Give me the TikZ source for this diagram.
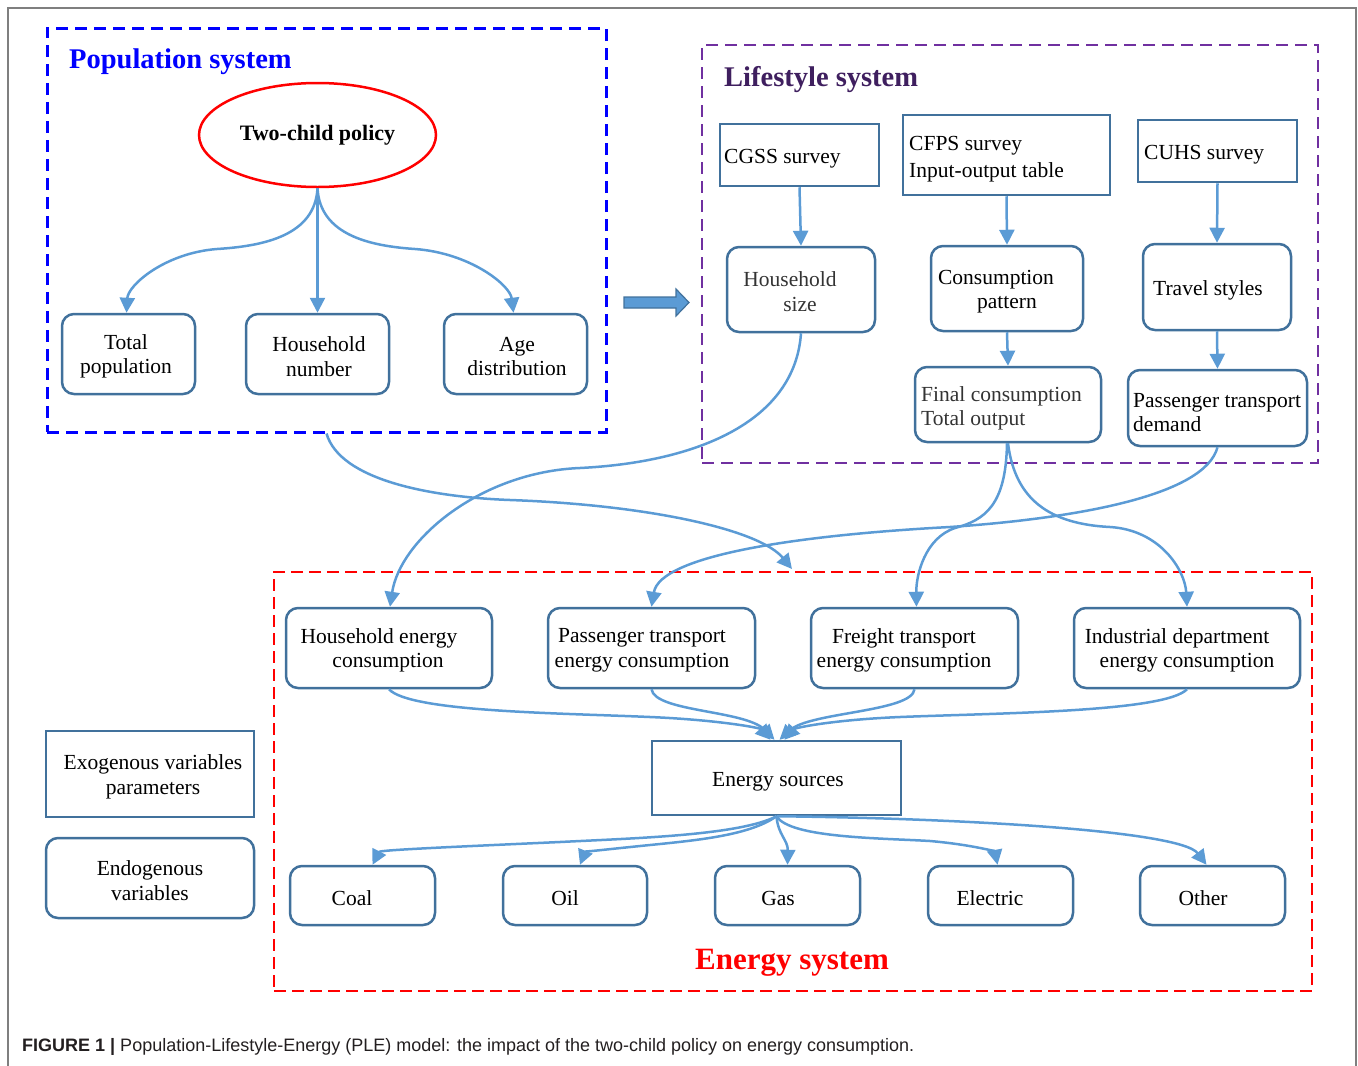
\documentclass[tikz,border=0pt]{standalone}
\usepackage{fontspec}
\setmainfont{Liberation Serif}
\newfontfamily\capfont{Liberation Sans}
\usetikzlibrary{shapes.geometric,arrows.meta}
\definecolor{boxc}{HTML}{41719C}
\definecolor{arrc}{HTML}{5B9BD5}
\definecolor{popblue}{HTML}{0000FF}
\definecolor{lifepurple}{HTML}{7030A0}
\definecolor{lifetitle}{HTML}{3F1F5F}
\definecolor{enred}{HTML}{FF0000}
\definecolor{framegray}{HTML}{7F7F7F}
\definecolor{captext}{HTML}{231F20}
\begin{document}
\begin{tikzpicture}[x=1pt,y=-1pt,
  rbox/.style={draw=boxc, line width=2.5pt, rounded corners=12pt, inner sep=0pt},
  sbox/.style={draw=boxc, line width=2.5pt, inner sep=0pt},
  txt/.style={inner sep=0pt, align=center, yshift=-2.5pt, font=\fontsize{21.5}{24.5}\selectfont},
  arr/.style={draw=arrc, line width=2.5pt, -{Triangle[length=15pt,width=15pt]}},
  sysbox/.style={inner sep=0pt, dash pattern=on 12pt off 7pt},
  systitle/.style={anchor=west, inner sep=0pt, font=\bfseries\fontsize{28.5}{30}\selectfont}]
\useasboundingbox (0,0) rectangle (1358,1066);
% frame
\draw[framegray, line width=1.5pt] (8,1070) -- (8,8) -- (1356,8) -- (1356,1070);

% ---------- Population system ----------
\node[sysbox, draw=popblue, line width=3pt, minimum width=559pt, minimum height=404pt] (popsys) at (326.5,230) {};
\node[systitle, text=popblue] (poptitle) at (69,62) {Population system};
\node[ellipse, draw=enred, line width=2.5pt, minimum width=237pt, minimum height=104pt, inner sep=0pt,
      font=\bfseries\fontsize{22}{24}\selectfont] (tcp) at (317.5,135) {\raisebox{-2pt}{Two-child policy}};
\node[rbox, minimum width=133pt, minimum height=80pt] (totpop) at (128.5,354) {};
\node[txt] (totpop-t) at (126,354) {Total\\population};
\node[rbox, minimum width=143pt, minimum height=80pt] (hhnum) at (317.5,354) {};
\node[txt] (hhnum-t) at (319,354) {Household\\number};
\node[rbox, minimum width=143pt, minimum height=80pt] (agedist) at (515.5,354) {};
\node[txt] (agedist-t) at (517,354) {Age\\distribution};

\draw[arr] (tcp.south) .. controls (315,235) and (265,246) .. (217,249) .. controls (165,253) and (128,285) .. ([xshift=-2pt]totpop.north);
\draw[arr] (tcp.south) -- (hhnum.north);
\draw[arr] (tcp.south) .. controls (320,235) and (370,246) .. (415,249) .. controls (470,253) and (510,285) .. ([xshift=-2pt]agedist.north);

% fat arrow
\filldraw[fill=arrc, draw=boxc, line width=1.2pt] (624,297) -- (676,297) -- (676,289) -- (689,302.5) -- (676,316) -- (676,308) -- (624,308) -- cycle;

% ---------- Lifestyle system ----------
\node[sysbox, draw=lifepurple, line width=2.5pt, minimum width=616pt, minimum height=418pt] (lifesys) at (1010,254) {};
\node[systitle, text=lifetitle] (lifetitle) at (724,80) {Lifestyle system};
\node[sbox, minimum width=159pt, minimum height=62pt] (cgss) at (799.5,155) {};
\node[txt, anchor=west, align=left] (cgss-t) at (724,156) {CGSS survey};
\node[sbox, minimum width=207pt, minimum height=80pt] (cfps) at (1006.5,155) {};
\node[txt, anchor=west, align=left, font=\fontsize{21.5}{27}\selectfont] (cfps-t) at (909,156.5) {CFPS survey\\Input-output table};
\node[sbox, minimum width=159pt, minimum height=62pt] (cuhs) at (1217.5,151) {};
\node[txt, anchor=west, align=left] (cuhs-t) at (1144,152) {CUHS survey};
\node[rbox, minimum width=148pt, minimum height=85pt] (hhsize) at (801,289.5) {};
\node[txt, text=black!80] (hhsize-t) at (790,289) {Household\\\hspace*{20pt}size};
\node[rbox, minimum width=152pt, minimum height=85pt] (conpat) at (1007,288.5) {};
\node[txt] (conpat-t) at (996,289) {Consumption\\\hspace*{22pt}pattern};
\node[rbox, minimum width=148pt, minimum height=86pt] (travel) at (1217,287) {};
\node[txt] (travel-t) at (1208,288) {Travel styles};
\node[rbox, minimum width=186pt, minimum height=75pt] (finc) at (1008,404.5) {};
\node[txt, anchor=west, align=left, text=black!80] (finc-t) at (921,406) {Final consumption\\Total output};
\node[rbox, minimum width=179pt, minimum height=76pt] (ptd) at (1217.5,408) {};
\node[txt, anchor=west, align=left] (ptd-t) at (1133,410) {Passenger transport\\demand};

\draw[arr] (cgss.south) -- (hhsize.north);
\draw[arr] (cfps.south) -- (conpat.north);
\draw[arr] (cuhs.south) -- (travel.north);
\draw[arr] (conpat.south) -- (finc.north);
\draw[arr] (travel.south) -- (ptd.north);

% ---------- Energy system ----------
\node[sysbox, draw=enred, line width=2.5pt, dash pattern=on 12pt off 6pt, minimum width=1038pt, minimum height=419pt] (enesys) at (793,781.5) {};
\node[inner sep=0pt, text=enred, font=\bfseries\fontsize{31}{33}\selectfont] (enetitle) at (792,963) {Energy system};
\node[rbox, minimum width=206pt, minimum height=80pt] (hec) at (389,648) {};
\node[txt] (hec-t) at (379,648) {Household energy\\\hspace*{18pt}consumption};
\node[rbox, minimum width=207pt, minimum height=80pt] (pec) at (651.5,648) {};
\node[txt] (pec-t) at (642,648) {Passenger transport\\energy consumption};
\node[rbox, minimum width=207pt, minimum height=80pt] (fec) at (914.5,648) {};
\node[txt] (fec-t) at (904,648) {Freight transport\\energy consumption};
\node[rbox, minimum width=226pt, minimum height=80pt] (iec) at (1187,648) {};
\node[txt] (iec-t) at (1177,648) {Industrial department\\\hspace*{20pt}energy consumption};
\node[sbox, minimum width=249pt, minimum height=74pt] (es) at (776.5,778) {};
\node[txt] (es-t) at (778,779) {Energy sources};
\node[rbox, minimum width=145pt, minimum height=59pt] (coal) at (362.5,895.5) {};
\node[txt] (coal-t) at (352,896) {Coal};
\node[rbox, minimum width=144pt, minimum height=59pt] (oil) at (575,895.5) {};
\node[txt] (oil-t) at (565,896) {Oil};
\node[rbox, minimum width=145pt, minimum height=59pt] (gas) at (787.5,895.5) {};
\node[txt] (gas-t) at (778,896) {Gas};
\node[rbox, minimum width=145pt, minimum height=59pt] (elec) at (1000.5,895.5) {};
\node[txt] (elec-t) at (990,896) {Electric};
\node[rbox, minimum width=145pt, minimum height=59pt] (other) at (1212.5,895.5) {};
\node[txt] (other-t) at (1203,896) {Other};

% legend
\node[sbox, minimum width=208pt, minimum height=86pt] (exo) at (150,774) {};
\node[txt] (exo-t) at (153,774.5) {Exogenous variables\\parameters};
\node[rbox, minimum width=208pt, minimum height=80pt] (endo) at (150,878) {};
\node[txt] (endo-t) at (150,878) {Endogenous\\variables};

% cross-system connectors
\coordinate (popend) at (792,569);
\draw[arr] (popsys.south) .. controls (340,480) and (430,497) .. (510,500) .. controls (650,505) and (760,530) .. (popend);
\draw[arr] (hhsize.south) .. controls (795,420) and (700,462) .. (580,468) .. controls (480,472) and (400,540) .. ([xshift=1pt]hec.north);
\draw[arr] ([xshift=-1pt]finc.south) .. controls (1006,505) and (985,520) .. (955,528) .. controls (925,538) and (916,575) .. ([xshift=2pt]fec.north);
\draw[arr] (finc.south) .. controls (1015,500) and (1050,524) .. (1110,527) .. controls (1160,530) and (1185,570) .. (iec.north);
\draw[arr] (ptd.south) .. controls (1205,495) and (1080,518) .. (950,527) .. controls (800,535) and (660,555) .. (pec.north);

% into energy sources
\draw[arr] (hec.south) .. controls (410,712) and (560,713) .. (650,717) .. controls (720,720) and (760,728) .. ([xshift=-6pt]es.north);
\draw[arr] (pec.south) .. controls (655,712) and (745,710) .. ([xshift=-2pt]es.north);
\draw[arr] (fec.south) .. controls (912,712) and (810,712) .. ([xshift=3pt]es.north);
\draw[arr] (iec.south) .. controls (1165,712) and (1000,713) .. (900,717) .. controls (830,720) and (795,728) .. ([xshift=8pt]es.north);

% out of energy sources
\draw[arr] (es.south) .. controls (740,835) and (640,838) .. (560,842) .. controls (450,847) and (380,850) .. ([xshift=10pt]coal.north);
\draw[arr] (es.south) .. controls (750,835) and (700,840) .. (650,845) .. controls (610,849) and (585,852) .. ([xshift=5pt]oil.north);
\draw[arr] (es.south) .. controls (778,835) and (788,840) .. (gas.north);
\draw[arr] (es.south) .. controls (790,838) and (880,838) .. (930,841) .. controls (975,845) and (995,852) .. ([xshift=-3pt]elec.north);
\draw[arr] (es.south) .. controls (950,818) and (1180,830) .. ([xshift=-6pt]other.north);

% caption
\node[anchor=west, inner sep=0pt, text=captext, font=\capfont\fontsize{18}{21}\selectfont] (caption) at (22,1047)
  {\textbf{FIGURE 1 |} Population-Lifestyle-Energy (PLE) model: the impact of the two-child policy on energy consumption.};
\end{tikzpicture}
\end{document}
